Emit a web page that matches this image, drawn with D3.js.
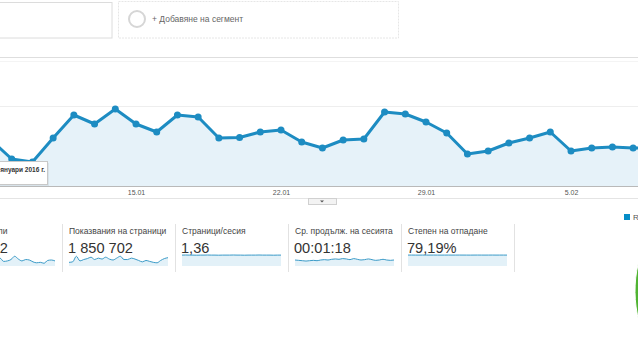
<!DOCTYPE html>
<html>
<head>
<meta charset="utf-8">
<script src="https://cdn.jsdelivr.net/npm/d3@7"></script>
<style>
  html, body { margin: 0; padding: 0; background: #fff; }
  svg { display: block; font-family: "Liberation Sans", Arial, sans-serif; }
</style>
</head>
<body>
<svg id="c" width="638" height="359"></svg>
<script>
// ---------- DATA ----------
const dates = ["2016-01-08","2016-01-09","2016-01-10","2016-01-11","2016-01-12","2016-01-13","2016-01-14",
  "2016-01-15","2016-01-16","2016-01-17","2016-01-18","2016-01-19","2016-01-20","2016-01-21",
  "2016-01-22","2016-01-23","2016-01-24","2016-01-25","2016-01-26","2016-01-27","2016-01-28",
  "2016-01-29","2016-01-30","2016-01-31","2016-02-01","2016-02-02","2016-02-03","2016-02-04",
  "2016-02-05","2016-02-06","2016-02-07","2016-02-08","2016-02-09"];
const sessions = [28750,16875,15000,30000,44375,38750,48125,
  38750,33750,44375,43125,30000,30300,33750,
  35000,27500,23750,28750,29375,46250,45000,
  40000,33125,20000,21875,26875,30000,33750,
  21875,23750,24375,23750,23750];
const tickDates = ["2016-01-15","2016-01-22","2016-01-29","2016-02-05"];
const tooltipText = "неделя, 10 януари 2016 г.";
const segmentText = "+ Добавяне на сегмент";

const metricTitles = ["Потребители","Показвания на страници","Страници/сесия","Ср. продълж. на сесията","Степен на отпадане"];
const metricValues = ["836 552","1 850 702","1,36","00:01:18","79,19%"];
const usersSpark = [26,24,30,36,33,38,34,31,36,35,29,29,34,27,28,31,38,32,28,31,30,26,24,25,23,29,30,28];
const pageviewsSpark = [45,46,58,48,51,53,56,51,54,52,56,52,50,54,58,51,51,54,52,49,46,49,47,45,44,49,53,55];
const pagesPerSessionSpark = [1.36,1.37,1.36,1.36,1.35,1.36,1.36,1.37,1.36,1.36,1.35,1.36,1.36,1.36,1.37,1.36,1.36,1.35,1.36,1.36,1.36,1.37,1.36,1.36,1.36,1.35,1.36,1.36];
const durationSpark = [80,79,78,77,78,79,78,80,81,80,82,83,82,84,83,81,84,82,80,81,83,81,79,80,82,80,79,80];
const bounceSpark = [79.2,79.4,79.1,79.0,79.3,79.2,79.1,79.3,79.2,79.0,79.2,79.3,79.1,79.2,79.4,79.2,79.1,79.0,79.2,79.3,79.2,79.1,79.2,79.3,79.1,79.2,79.2,79.1];
const sparkDomains = [[15,45],[35,65],[0,1.6],[60,100],[0,93]];

const userTypes = ["Returning Visitor","New Visitor"];
const userShares = [38, 62];
const userColors = ["#058dc7","#50b432"];

// ---------- DRAW ----------
const svg = d3.select("#c");
const parse = d3.timeParse("%Y-%m-%d");
const pts = dates.map((d,i)=>({date: parse(d), v: sessions[i]}));

// top segment boxes
svg.append("rect").attr("x",-10).attr("y",2.5).attr("width",122).attr("height",35.5)
  .attr("fill","#fff").attr("stroke","#dcdcdc");
svg.append("rect").attr("x",118.5).attr("y",1.5).attr("width",280).attr("height",36.5)
  .attr("fill","#fff").attr("stroke","#e6e6e6").attr("stroke-dasharray","2,1");
svg.append("circle").attr("cx",137).attr("cy",19).attr("r",8)
  .attr("fill","none").attr("stroke","#d6d6d6").attr("stroke-width",2);
svg.append("text").attr("x",152).attr("y",21.5).attr("font-size",8.5).attr("fill","#666").text(segmentText);

// separator
svg.append("line").attr("x1",0).attr("x2",638).attr("y1",57.5).attr("y2",57.5).attr("stroke","#dedede");
svg.append("line").attr("x1",0).attr("x2",638).attr("y1",61.5).attr("y2",61.5).attr("stroke","#f4f4f4");

// main chart
const x = d3.scaleTime().domain([parse("2016-01-08"), parse("2016-02-05")]).range([-9, 571]);
const y = d3.scaleLinear().domain([0, 50000]).range([186, 106]);

svg.append("line").attr("x1",0).attr("x2",638).attr("y1",y(50000)+0.5).attr("y2",y(50000)+0.5).attr("stroke","#eeeeee");

const area = d3.area().x(d=>x(d.date)).y0(y(0)).y1(d=>y(d.v));
const line = d3.line().x(d=>x(d.date)).y(d=>y(d.v));
svg.append("path").datum(pts).attr("d",area).attr("fill","#e6f2f9");
svg.append("line").attr("x1",0).attr("x2",638).attr("y1",186.5).attr("y2",186.5).attr("stroke","#b9b9b9");
svg.append("path").datum(pts).attr("d",line).attr("fill","none")
  .attr("stroke","#1d8cc2").attr("stroke-width",3).attr("stroke-linejoin","round");
svg.selectAll("circle.pt").data(pts).join("circle").attr("class","pt")
  .attr("cx",d=>x(d.date)).attr("cy",d=>y(d.v)).attr("r",3.5).attr("fill","#1d8cc2");

// x axis
const axis = d3.axisBottom(x).tickValues(tickDates.map(parse))
  .tickFormat(d3.timeFormat("%-d.%m")).tickSize(0).tickPadding(0);
const gAxis = svg.append("g").attr("transform","translate(0,190)").call(axis);
gAxis.select(".domain").remove();
gAxis.selectAll("text").attr("font-size",7).attr("fill","#555")
  .attr("font-family","Liberation Sans, Arial, sans-serif").attr("dy","0.71em");

svg.append("line").attr("x1",0).attr("x2",638).attr("y1",198.5).attr("y2",198.5).attr("stroke","#e4e4e4");
svg.append("rect").attr("x",308.5).attr("y",198.5).attr("width",28).attr("height",6)
  .attr("fill","#f3f3f3").attr("stroke","#d0d0d0");
svg.append("path").attr("d","M320,200.5 L324,200.5 L322,202.5 Z").attr("fill","#555");

// tooltip
const tt = svg.append("g");
tt.append("rect").attr("x",-6).attr("y",162).attr("width",54).attr("height",23)
  .attr("fill","#000").attr("opacity",0.06).attr("transform","translate(1,1)");
tt.append("rect").attr("x",-6.5).attr("y",161.5).attr("width",54).attr("height",23)
  .attr("fill","#fff").attr("stroke","#c8c8c8");
tt.append("text").attr("x",45).attr("y",172).attr("text-anchor","end")
  .attr("font-size",6.5).attr("font-weight","bold").attr("fill","#333").text(tooltipText);

// metrics
const sparks = [usersSpark, pageviewsSpark, pagesPerSessionSpark, durationSpark, bounceSpark];
const boxX = [-51, 62, 175, 288, 401];
boxX.forEach((bx,i)=>{
  const g = svg.append("g");
  g.append("line").attr("x1",bx+113.5).attr("x2",bx+113.5).attr("y1",224).attr("y2",272).attr("stroke","#e2e2e2");
  g.append("text").attr("x",bx+7).attr("y",234).attr("font-size",8.5).attr("fill","#444").text(metricTitles[i]);
  g.append("text").attr("x",bx+6).attr("y",252.5).attr("font-size",14.6).attr("fill","#333").text(metricValues[i]);
  const sx = d3.scaleLinear().domain([0, sparks[i].length-1]).range([bx+7, bx+106]);
  const sy = d3.scaleLinear().domain(sparkDomains[i]).range([267, 253]);
  const sa = d3.area().x((d,j)=>sx(j)).y0(266).y1(d=>sy(d));
  const sl = d3.line().x((d,j)=>sx(j)).y(d=>sy(d)).curve(d3.curveMonotoneX);
  g.append("path").datum(sparks[i]).attr("d",sa.curve(d3.curveMonotoneX)).attr("fill","#e3f1f8");
  g.append("path").datum(sparks[i]).attr("d",sl).attr("fill","none").attr("stroke","#3b9bc8").attr("stroke-width",1);
});

// legend
svg.append("rect").attr("x",624).attr("y",214).attr("width",6).attr("height",6).attr("fill",userColors[0]);
svg.append("text").attr("x",633).attr("y",220).attr("font-size",8).attr("fill","#555").text(userTypes[0]);

// pie
const pie = d3.pie().sort(null)(userShares);
const arc = d3.arc().innerRadius(0).outerRadius(120);
svg.append("g").attr("transform","translate(755,291)")
  .selectAll("path").data(pie).join("path").attr("d",arc)
  .attr("fill",(d,i)=>userColors[i]).attr("stroke","#fff").attr("stroke-width",1);
</script>
</body>
</html>
